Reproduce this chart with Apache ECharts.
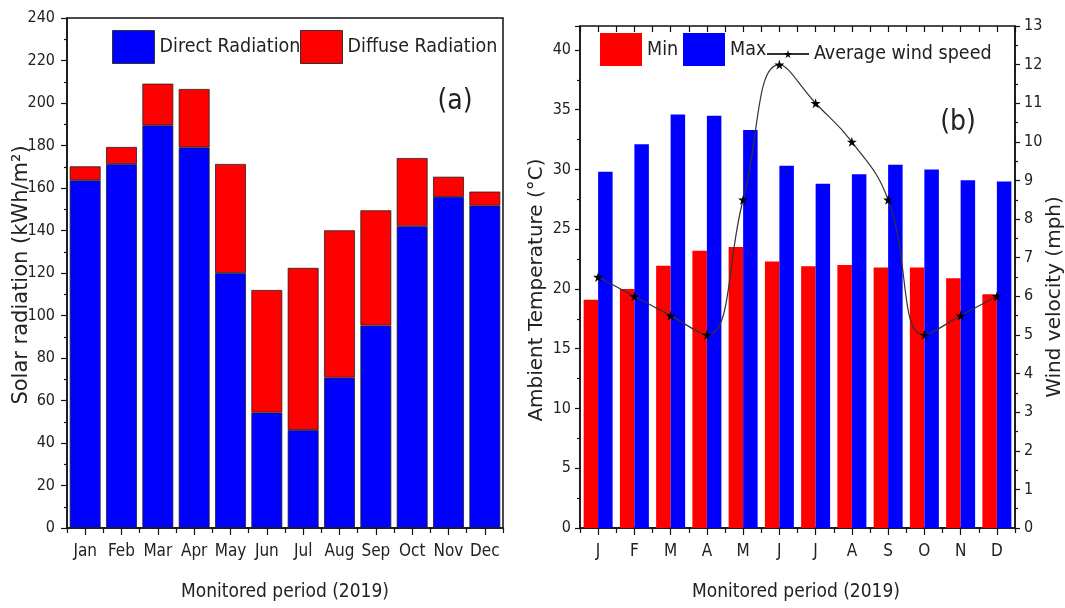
<!DOCTYPE html>
<html>
<head>
<meta charset="utf-8">
<script src="https://cdn.jsdelivr.net/npm/echarts@6/dist/echarts.min.js"></script>
<style>html,body{margin:0;padding:0;background:#fff;}#c{width:1065px;height:608px;}</style>
</head>
<body>
<div id="c"></div>
<script>
// ---- data ----
const monthsA = ['Jan','Feb','Mar','Apr','May','Jun','Jul','Aug','Sep','Oct','Nov','Dec'];
const directRadiation = [163.6, 171.3, 189.5, 179.1, 120.0, 54.3, 46.1, 70.8, 95.3, 142.0, 155.8, 151.7];
const diffuseRadiation = [6.6, 8.0, 19.6, 27.5, 51.3, 57.7, 76.3, 69.3, 54.2, 32.1, 9.5, 6.6];
const monthsB = ['J','F','M','A','M','J','J','A','S','O','N','D'];
const minTemp = [19.1, 20.0, 21.95, 23.2, 23.5, 22.3, 21.9, 22.0, 21.8, 21.8, 20.9, 19.55];
const maxTemp = [29.8, 32.1, 34.6, 34.5, 33.3, 30.3, 28.8, 29.6, 30.4, 30.0, 29.1, 29.0];
const windSpeed = [6.5, 6.0, 5.5, 5.0, 8.5, 12.0, 11.0, 10.0, 8.5, 5.0, 5.5, 6.0];

const NARROW = "'Liberation Sans Narrow','DejaVu Sans Condensed','Liberation Sans',Arial,sans-serif";
const WIDE = "'DejaVu Sans','Liberation Sans',sans-serif";
const STAR = 'path://M50,0 L61,35 L98,35 L68,57 L79,91 L50,70 L21,91 L32,57 L2,35 L39,35 Z';

const chart = echarts.init(document.getElementById('c'), null, {renderer: 'canvas'});

const lineStyleAx = {color: '#111', width: 1.5};
const tickLabel = {fontFamily: NARROW, fontSize: 16, color: '#222'};

function catAxis(grid, data, opts) {
  return Object.assign({
    type: 'category', gridIndex: grid, data: data, position: 'bottom',
    axisLine: {show: true, lineStyle: lineStyleAx},
    axisTick: {show: true, alignWithLabel: true, length: 7, lineStyle: {color: '#111', width: 1.2}},
    axisLabel: Object.assign({margin: 15, interval: 0}, tickLabel, {fontSize: 17}),
    splitLine: {show: false}
  }, opts || {});
}
function boundaryAxis(grid, data, position, inside, len) {
  return {
    type: 'category', gridIndex: grid, data: data, position: position,
    axisLine: {show: false},
    axisTick: {show: true, interval: 0, alignWithLabel: false, inside: inside, length: len, lineStyle: {color: '#111', width: 1.2}},
    axisLabel: {show: false}, splitLine: {show: false}
  };
}
const legText = {fontFamily: NARROW, fontSize: 19.5, color: '#222'};

const option = {
  animation: false,
  backgroundColor: '#fff',
  grid: [
    {left: 67, top: 18, width: 436, height: 510, show: true, borderColor: '#111', borderWidth: 1.5, backgroundColor: 'transparent'},
    {left: 580, top: 26, width: 435, height: 502, show: true, borderColor: '#111', borderWidth: 1.5, backgroundColor: 'transparent'}
  ],
  xAxis: [
    catAxis(0, monthsA),
    boundaryAxis(0, monthsA, 'bottom', false, 5),
    catAxis(1, monthsB),
    boundaryAxis(1, monthsB, 'bottom', false, 5),
    Object.assign(boundaryAxis(1, monthsB, 'top', true, 6), {axisTick: {show: true, interval: 0, alignWithLabel: true, inside: true, length: 6, lineStyle: {color: '#111', width: 1.2}}}),
    boundaryAxis(1, monthsB, 'top', true, 6)
  ],
  yAxis: [
    {type: 'value', gridIndex: 0, min: 0, max: 240, interval: 20,
     axisLine: {show: true, lineStyle: lineStyleAx},
     axisTick: {show: true, length: 6, lineStyle: {color: '#111', width: 1.2}},
     minorTick: {show: true, splitNumber: 2, length: 3, lineStyle: {color: '#111', width: 1.2}},
     axisLabel: Object.assign({margin: 12}, tickLabel),
     splitLine: {show: false}},
    {type: 'value', gridIndex: 1, min: 0, max: 42, interval: 5, position: 'left',
     axisLine: {show: true, lineStyle: lineStyleAx},
     axisTick: {show: true, length: 5, lineStyle: {color: '#111', width: 1.2}},
     minorTick: {show: true, splitNumber: 2, length: 3, lineStyle: {color: '#111', width: 1.2}},
     axisLabel: Object.assign({margin: 9, showMaxLabel: false}, tickLabel),
     splitLine: {show: false}},
    {type: 'value', gridIndex: 1, min: 0, max: 13, interval: 1, position: 'right',
     axisLine: {show: true, lineStyle: lineStyleAx},
     axisTick: {show: true, length: 5, lineStyle: {color: '#111', width: 1.2}},
     minorTick: {show: true, splitNumber: 2, length: 3, lineStyle: {color: '#111', width: 1.2}},
     axisLabel: Object.assign({margin: 9}, tickLabel),
     splitLine: {show: false}}
  ],
  legend: [
    {data: [{name: 'Direct Radiation', icon: 'rect'}], left: 112, top: 30, itemWidth: 42, itemHeight: 33, padding: 0,
     itemStyle: {borderColor: '#333', borderWidth: 1}, textStyle: legText},
    {data: [{name: 'Diffuse Radiation', icon: 'rect'}], left: 300, top: 30, itemWidth: 42, itemHeight: 33, padding: 0,
     itemStyle: {borderColor: '#333', borderWidth: 1}, textStyle: legText},
    {data: [{name: 'Min', icon: 'rect'}], left: 600, top: 33, itemWidth: 42, itemHeight: 33, padding: 0,
     textStyle: legText},
    {data: [{name: 'Max', icon: 'rect'}], left: 683, top: 33, itemWidth: 42, itemHeight: 33, padding: 0,
     textStyle: legText},
    {data: ['Average wind speed'], left: 766, top: 44, itemWidth: 42, itemHeight: 10, padding: 0,
     textStyle: legText}
  ],
  series: [
    {name: 'Direct Radiation', type: 'bar', xAxisIndex: 0, yAxisIndex: 0, stack: 'rad',
     barCategoryGap: '15%', data: directRadiation,
     itemStyle: {color: '#0000ff', borderColor: '#222', borderWidth: 0.8}},
    {name: 'Diffuse Radiation', type: 'bar', xAxisIndex: 0, yAxisIndex: 0, stack: 'rad',
     barCategoryGap: '15%', data: diffuseRadiation,
     itemStyle: {color: '#ff0000', borderColor: '#222', borderWidth: 0.8}},
    {name: 'Min', type: 'bar', xAxisIndex: 2, yAxisIndex: 1, barGap: '0%', barCategoryGap: '20%',
     data: minTemp, itemStyle: {color: '#ff0000'}},
    {name: 'Max', type: 'bar', xAxisIndex: 2, yAxisIndex: 1, barGap: '0%', barCategoryGap: '20%',
     data: maxTemp, itemStyle: {color: '#0000ff'}},
    {name: 'Average wind speed', type: 'line', xAxisIndex: 2, yAxisIndex: 2, smooth: 0.45,
     data: windSpeed, symbol: STAR, symbolSize: 10, z: 5,
     itemStyle: {color: '#000'}, lineStyle: {color: '#333', width: 1.2}}
  ],
  graphic: [
    {type: 'text', x: 22, y: 275, rotation: Math.PI / 2,
     style: {text: 'Solar radiation (kWh/m²)', font: '21px ' + WIDE, fill: '#222', align: 'center', verticalAlign: 'middle'}},
    {type: 'text', x: 285, y: 592,
     style: {text: 'Monitored period (2019)', font: '19px ' + NARROW, fill: '#222', align: 'center', verticalAlign: 'middle'}},
    {type: 'text', x: 455, y: 102,
     style: {text: '(a)', font: '28px ' + NARROW, fill: '#222', align: 'center', verticalAlign: 'middle'}},
    {type: 'text', x: 537, y: 290, rotation: Math.PI / 2,
     style: {text: 'Ambient Temperature (°C)', font: '20px ' + WIDE, fill: '#222', align: 'center', verticalAlign: 'middle'}},
    {type: 'text', x: 1055, y: 297, rotation: Math.PI / 2,
     style: {text: 'Wind velocity (mph)', font: '20px ' + WIDE, fill: '#222', align: 'center', verticalAlign: 'middle'}},
    {type: 'text', x: 796, y: 592,
     style: {text: 'Monitored period (2019)', font: '19px ' + NARROW, fill: '#222', align: 'center', verticalAlign: 'middle'}},
    {type: 'text', x: 958, y: 123,
     style: {text: '(b)', font: '28px ' + NARROW, fill: '#222', align: 'center', verticalAlign: 'middle'}}
  ]
};
chart.setOption(option);
</script>
</body>
</html>
